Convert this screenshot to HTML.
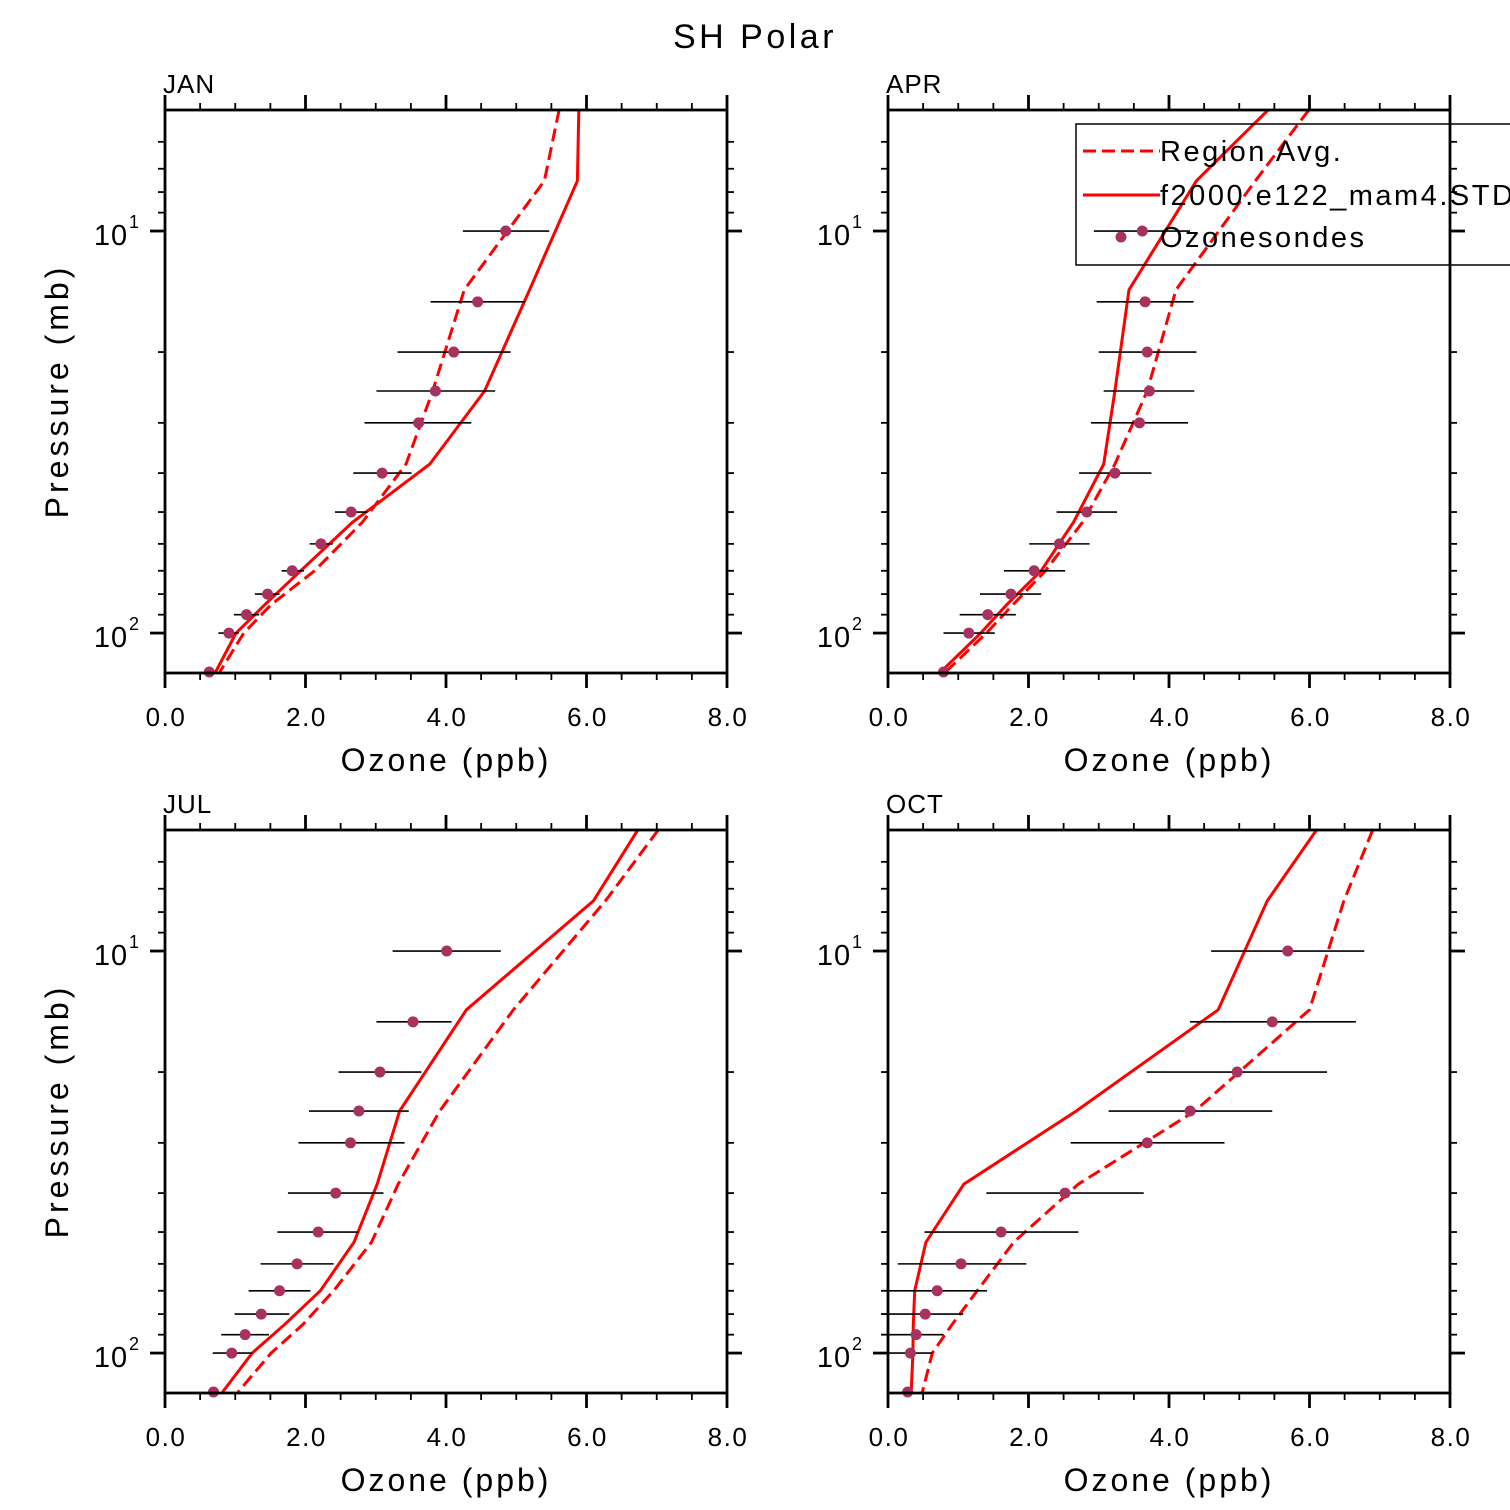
<!DOCTYPE html>
<html><head><meta charset="utf-8"><style>
html,body{margin:0;padding:0;background:#fff}
svg{display:block}
text{font-family:"Liberation Sans",sans-serif;fill:#000}
</style></head><body>
<svg id="chart" width="1510" height="1510" viewBox="0 0 1510 1510" xmlns="http://www.w3.org/2000/svg">
<rect width="1510" height="1510" fill="#fff"/>
<text x="755" y="48" font-size="34" text-anchor="middle" letter-spacing="3.5">SH Polar</text>
</svg>
<script>
// Shared data
const monthNames = ["JAN","APR","JUL","OCT"];
const modelLevels = [5,7.5,14,25,38,53,70,85,100,125];
const obsLevels = [10,15,20,25,30,40,50,60,70,80,90,100,125];
const xTickLabels = ["0.0","2.0","4.0","6.0","8.0"];
const xTickValues = [0,2,4,6,8];

// JAN
const janRegion = [5.61,5.40,4.26,3.81,3.43,2.81,2.13,1.51,1.12,0.78];
const janModel  = [5.89,5.87,5.19,4.55,3.77,2.67,1.93,1.42,1.01,0.72];
const janObs    = [4.85,4.45,4.11,3.85,3.61,3.09,2.65,2.22,1.81,1.46,1.16,0.91,0.63];
const janObsLo  = [4.24,3.78,3.31,3.01,2.84,2.68,2.42,2.06,1.66,1.28,0.98,0.76,null];
const janObsHi  = [5.47,5.13,4.92,4.70,4.36,3.51,2.88,2.39,1.98,1.63,1.34,1.05,null];
// APR
const aprRegion = [5.99,5.23,4.10,3.69,3.23,2.77,2.24,1.78,1.40,0.82];
const aprModel  = [5.41,4.39,3.43,3.23,3.07,2.64,2.18,1.69,1.32,0.75];
const aprObs    = [3.62,3.66,3.69,3.72,3.58,3.23,2.83,2.44,2.08,1.75,1.42,1.15,0.79];
const aprObsLo  = [2.93,2.97,3.00,3.07,2.89,2.72,2.40,2.01,1.65,1.31,1.02,0.79,null];
const aprObsHi  = [4.30,4.35,4.39,4.36,4.27,3.75,3.26,2.87,2.52,2.18,1.82,1.52,null];
// JUL
const julRegion = [7.02,6.27,4.96,3.91,3.32,2.94,2.40,1.96,1.51,1.04];
const julModel  = [6.73,6.10,4.29,3.34,3.02,2.69,2.21,1.70,1.24,0.82];
const julObs    = [4.01,3.53,3.06,2.76,2.64,2.43,2.18,1.88,1.63,1.37,1.14,0.95,0.69];
const julObsLo  = [3.24,3.01,2.47,2.05,1.90,1.75,1.60,1.36,1.19,0.99,0.80,0.68,null];
const julObsHi  = [4.78,4.08,3.65,3.47,3.41,3.11,2.75,2.40,2.07,1.77,1.48,1.24,null];
// OCT
const octRegion = [6.90,6.49,6.00,4.37,2.71,1.79,1.27,0.91,0.63,0.49];
const octModel  = [6.10,5.40,4.70,2.68,1.08,0.54,0.38,0.36,0.355,0.33];
const octObs    = [5.69,5.47,4.97,4.30,3.69,2.52,1.61,1.04,0.70,0.53,0.40,0.32,0.28];
const octObsLo  = [4.60,4.30,3.68,3.14,2.60,1.40,0.52,0.14,0.00,-0.10,0.00,0.00,null];
const octObsHi  = [6.78,6.66,6.25,5.47,4.79,3.64,2.71,1.97,1.41,1.07,0.79,0.63,null];

const NS = "http://www.w3.org/2000/svg";
const svg = document.getElementById("chart");
function mk(tag, attrs, parent){
  const e = document.createElementNS(NS, tag);
  for (const k in attrs) e.setAttribute(k, attrs[k]);
  (parent||svg).appendChild(e);
  return e;
}
const PW = 562, PH = 563, PMIN = 5, PMAX = 125.7;
function makeX(x0){ return v => x0 + v / 8 * PW; }
function makeY(y0){
  const a = Math.log10(PMIN), b = Math.log10(PMAX);
  return p => y0 + (Math.log10(p) - a) / (b - a) * PH;
}

const panels = [
  {name:"jan", x0:165, y0:110, region:janRegion, model:janModel, obs:janObs, lo:janObsLo, hi:janObsHi, label:monthNames[0]},
  {name:"apr", x0:888, y0:110, region:aprRegion, model:aprModel, obs:aprObs, lo:aprObsLo, hi:aprObsHi, label:monthNames[1]},
  {name:"jul", x0:165, y0:830, region:julRegion, model:julModel, obs:julObs, lo:julObsLo, hi:julObsHi, label:monthNames[2]},
  {name:"oct", x0:888, y0:830, region:octRegion, model:octModel, obs:octObs, lo:octObsLo, hi:octObsHi, label:monthNames[3]}
];

panels.forEach(P => {
  const g = mk("g", {});
  
  
  const X = makeX(P.x0), Y = makeY(P.y0);
  const clipId = "clip-" + P.name;
  const cp = mk("clipPath", {id: clipId}, g);
  mk("rect", {x:P.x0, y:P.y0, width:PW, height:PH}, cp);
  const plot = mk("g", {"clip-path":"url(#"+clipId+")"}, g);
  
  

  P.obs.forEach((v,i) => {
    if (P.lo[i] === null) return;
    const l = mk("line", {x1:X(P.lo[i]), x2:X(P.hi[i]), y1:Y(obsLevels[i]), y2:Y(obsLevels[i]), stroke:"#000", "stroke-width":1.6}, g);
    
    
  });
  const rd = modelLevels.map((p,i) => (i?"L":"M") + X(P.region[i]).toFixed(1) + "," + Y(p).toFixed(1)).join("");
  const rp = mk("path", {d:rd, fill:"none", stroke:"#f00", "stroke-width":3, "stroke-dasharray":"13,6"}, plot);
  
  
  const md = modelLevels.map((p,i) => (i?"L":"M") + X(P.model[i]).toFixed(1) + "," + Y(p).toFixed(1)).join("");
  const mp = mk("path", {d:md, fill:"none", stroke:"#f00", "stroke-width":3}, plot);
  
  
  P.obs.forEach((v,i) => {
    const c = mk("circle", {cx:X(v), cy:Y(obsLevels[i]), r:5.5, fill:"#a8325f"}, g);
    
    
  });

  const fr = mk("rect", {x:P.x0, y:P.y0, width:PW, height:PH, fill:"none", stroke:"#000", "stroke-width":2.8}, g);
  
  

  for (let v = 0; v <= 8.001; v += 0.5) {
    const major = Math.abs(v - Math.round(v/2)*2) < 1e-6;
    const len = major ? 15 : 7;
    const xx = X(v);
    mk("line", {x1:xx, x2:xx, y1:P.y0+PH, y2:P.y0+PH+len, stroke:"#000", "stroke-width":major?2.8:1.8}, g);
    mk("line", {x1:xx, x2:xx, y1:P.y0, y2:P.y0-len, stroke:"#000", "stroke-width":major?2.8:1.8}, g);
  }
  xTickValues.forEach((v,i) => {
    const t = mk("text", {x:X(v)+1, y:P.y0+PH+53, "font-size":26, "text-anchor":"middle", "letter-spacing":"1.5"}, g);
    t.textContent = xTickLabels[i];
    
    
  });
  const yt = [6,7,8,9,10,20,30,40,50,60,70,80,90,100];
  yt.forEach(p => {
    const major = (p === 10 || p === 100);
    const len = major ? 15 : 7;
    const yy = Y(p);
    mk("line", {x1:P.x0-len, x2:P.x0, y1:yy, y2:yy, stroke:"#000", "stroke-width":major?2.8:1.8}, g);
    mk("line", {x1:P.x0+PW, x2:P.x0+PW+len, y1:yy, y2:yy, stroke:"#000", "stroke-width":major?2.8:1.8}, g);
  });
  [[10,"1"],[100,"2"]].forEach(([p,e]) => {
    const t = mk("text", {x:P.x0-54, y:Y(p)+14, "font-size":29, "text-anchor":"middle", "letter-spacing":"1"}, g);
    t.textContent = "10";
    
    
    const s = mk("text", {x:P.x0-36, y:Y(p)-3, "font-size":18}, g);
    s.textContent = e;
  });
  const ml = mk("text", {x:P.x0-2, y:P.y0-17, "font-size":26, "letter-spacing":"1"}, g);
  ml.textContent = P.label;
  
  
  const xl = mk("text", {x:P.x0+PW/2, y:P.y0+PH+98, "font-size":32, "text-anchor":"middle", "letter-spacing":"3"}, g);
  xl.textContent = "Ozone (ppb)";
  
  
  if (P.x0 < 500) {
    const cy = P.y0 + 281;
    const yl = mk("text", {x:68, y:cy, "font-size":32, "text-anchor":"middle", "letter-spacing":"4", transform:"rotate(-90 68 "+cy+")"}, g);
    yl.textContent = "Pressure (mb)";
    
    
  }
});

const lg = mk("g", {});


mk("rect", {x:1076, y:124, width:460, height:141, fill:"none", stroke:"#000", "stroke-width":1.5}, lg);
const l1 = mk("line", {x1:1083, x2:1160, y1:151, y2:151, stroke:"#f00", "stroke-width":3, "stroke-dasharray":"13,6"}, lg);


const l2 = mk("line", {x1:1083, x2:1160, y1:195, y2:195, stroke:"#f00", "stroke-width":3}, lg);


const l3 = mk("circle", {cx:1121, cy:237, r:5.5, fill:"#a8325f"}, lg);


[["Region Avg.",161],["f2000.e122_mam4.STD",205],["Ozonesondes",247]].forEach(([s,y]) => {
  const t = mk("text", {x:1160, y:y, "font-size":29, "letter-spacing":"2.5"}, lg);
  t.textContent = s;
  
  
});
</script>
</body></html>
